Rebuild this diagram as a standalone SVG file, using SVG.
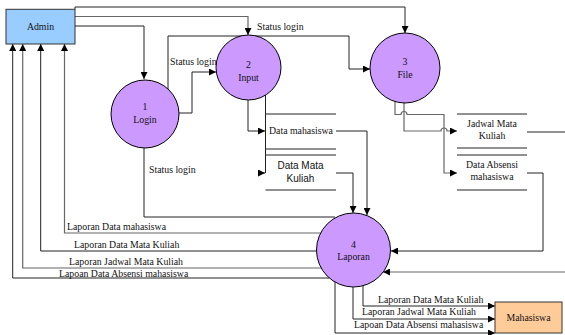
<svg xmlns="http://www.w3.org/2000/svg" width="565" height="335" viewBox="0 0 565 335">
  <defs>
    <marker id="arr" viewBox="0 0 10 10" refX="10" refY="5" markerWidth="7" markerHeight="7" markerUnits="userSpaceOnUse" orient="auto">
      <path d="M0,0 L10,5 L0,10 Z" fill="#000"/>
    </marker>
  </defs>
  <style>
    .proc { fill: #cc99ff; stroke: #000; stroke-width: 1; }
    .ent { stroke: #333; stroke-width: 1; }
    .t { font-family: "Liberation Serif", "Times New Roman", serif; font-size: 9.8px; fill: #111; }
    .c { text-anchor: middle; }
    .s { font-family: "Liberation Sans", Arial, sans-serif; font-size: 10px; fill: #111; }
    .ln { fill: none; stroke: #222; stroke-width: 1; }
    .lg { fill: none; stroke: #666; stroke-width: 1.2; }
    .a { marker-end: url(#arr); }
    .store { stroke: #222; stroke-width: 1; }
  </style>

  <g id="connectors">
    <!-- Admin to processes -->
    <path class="ln a" d="M75,9 V7 H405 V33"/>
    <path class="lg a" d="M75,16.5 H248 V35"/>
    <path class="ln a" d="M75,26 H144 V79"/>
    <!-- Login to Input / File / Laporan -->
    <path class="ln a" d="M179,113 H192 V72 H216"/>
    <path class="ln a" d="M168,89 V36 H349 V69 H370"/>
    <path class="ln" d="M144,148 V217 H335"/>
    <!-- Input to stores -->
    <path class="ln a" d="M248,100 V131 H265"/>
    <path class="ln" d="M265.5,95 V173"/>
    <path class="ln a" d="M258,173 H265"/>
    <!-- File to stores -->
    <path class="lg a" d="M395,101.5 V114.5 H401 a3,3 0 0 1 6,0 H444 V173 H457"/>
    <path class="lg a" d="M404,103 V131 H441 a3,3 0 0 1 6,0 H457"/>
    <!-- stores to Laporan -->
    <path class="ln a" d="M336,131 H367 V215"/>
    <path class="ln a" d="M336,173 H353 V213"/>
    <path class="ln a" d="M527,173 H543 V251 H391"/>
    <path class="ln" d="M527,132 H565"/>
    <path class="lg a" d="M565,272 H383"/>
    <!-- Laporan to Admin -->
    <path class="lg a" d="M320.6,233 H64.5 V44"/>
    <path class="ln a" d="M316.5,251 H40.7 V44"/>
    <path class="lg a" d="M321,268 H22.7 V44"/>
    <path class="ln a" d="M329.5,278 H12.7 V44"/>
    <!-- Laporan to Mahasiswa -->
    <path class="ln a" d="M363,286 V306 H495"/>
    <path class="ln a" d="M353,287 V319 H495"/>
    <path class="ln a" d="M335,282 V333 H495"/>
  </g>

  <g id="admin">
    <rect class="ent" x="6" y="9.3" width="69" height="34.7" fill="#99ccff"/>
    <text class="t c" x="40.5" y="30">Admin</text>
  </g>

  <g id="mahasiswa">
    <rect class="ent" x="495" y="302" width="67" height="31" fill="#ffcc99"/>
    <text class="t c" x="528.5" y="321">Mahasiswa</text>
  </g>

  <g id="p1-login">
    <circle class="proc" cx="145" cy="114" r="34"/>
    <text class="t c" x="145" y="110">1</text>
    <text class="t c" x="145" y="123">Login</text>
  </g>

  <g id="p2-input">
    <circle class="proc" cx="248.5" cy="67.5" r="32.5"/>
    <text class="t c" x="248.5" y="68">2</text>
    <text class="t c" x="248.5" y="81">Input</text>
  </g>

  <g id="p3-file">
    <circle class="proc" cx="405" cy="68" r="35"/>
    <text class="t c" x="405" y="65">3</text>
    <text class="t c" x="405" y="78">File</text>
  </g>

  <g id="p4-laporan">
    <circle class="proc" cx="353.5" cy="250" r="37"/>
    <text class="t c" x="353.5" y="248">4</text>
    <text class="t c" x="353.5" y="260">Laporan</text>
  </g>

  <g id="store-data-mahasiswa">
    <line class="store" x1="265.5" y1="114" x2="336" y2="114"/>
    <line class="store" x1="265.5" y1="149" x2="336" y2="149"/>
    <text class="t" x="269" y="134">Data mahasiswa</text>
  </g>

  <g id="store-data-mata-kuliah">
    <line class="store" x1="265.5" y1="155" x2="336" y2="155"/>
    <line class="store" x1="265.5" y1="190" x2="336" y2="190"/>
    <text class="s c" x="300.5" y="169">Data Mata</text>
    <text class="s c" x="300.5" y="182">Kuliah</text>
  </g>

  <g id="store-jadwal">
    <line class="store" x1="457" y1="114" x2="527" y2="114"/>
    <line class="store" x1="457" y1="148" x2="527" y2="148"/>
    <text class="t c" x="492" y="127">Jadwal Mata</text>
    <text class="t c" x="492" y="139">Kuliah</text>
  </g>

  <g id="store-absensi">
    <line class="store" x1="457" y1="155" x2="527" y2="155"/>
    <line class="store" x1="457" y1="190" x2="527" y2="190"/>
    <text class="t c" x="492" y="168">Data Absensi</text>
    <text class="t c" x="492" y="180">mahasiswa</text>
  </g>

  <g id="labels">
    <text class="t" x="257" y="30">Status login</text>
    <text class="t" x="170" y="65">Status login</text>
    <text class="t" x="149" y="173">Status login</text>
    <text class="t" x="67" y="230">Laporan Data mahasiswa</text>
    <text class="t" x="74" y="248">Laporan Data Mata Kuliah</text>
    <text class="t" x="69" y="265">Laporan Jadwal Mata Kuliah</text>
    <text class="t" x="59" y="277">Lapoan Data Absensi mahasiswa</text>
    <text class="t" x="378" y="303">Laporan Data Mata Kuliah</text>
    <text class="t" x="362" y="315">Laporan Jadwal Mata Kuliah</text>
    <text class="t" x="354" y="328">Lapoan Data Absensi mahasiswa</text>
  </g>
</svg>
